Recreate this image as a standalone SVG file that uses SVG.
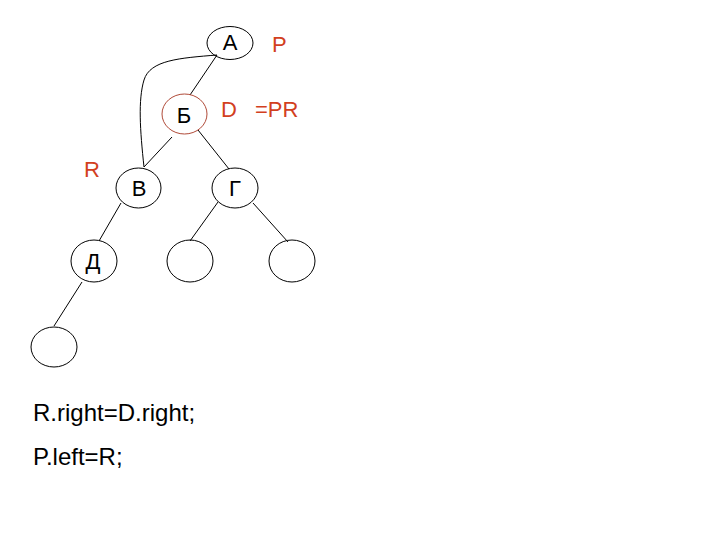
<svg xmlns="http://www.w3.org/2000/svg" width="720" height="540" viewBox="0 0 720 540">
<style>
.n{fill:none;stroke:#000;stroke-width:1}
.t{font-family:"Liberation Sans",Arial,sans-serif;font-size:22px;fill:#000;text-anchor:middle}
.r{font-family:"Liberation Sans",Arial,sans-serif;font-size:22px;fill:#d2401e}
.c{fill:none;stroke:#000;stroke-width:1}
.code{font-family:"Liberation Sans",Arial,sans-serif;font-size:24px;fill:#000}
</style>
<rect width="720" height="540" fill="#fff"/>
<g id="connectors">
<path class="c" d="M217,55 C180,58 150,60 144,80 C138,100 140,130 144,167"/>
<line class="c" x1="217" y1="55" x2="190" y2="95"/>
<line class="c" x1="172" y1="137" x2="144" y2="167"/>
<line class="c" x1="198" y1="130" x2="229" y2="169"/>
<line class="c" x1="121" y1="203" x2="99" y2="241"/>
<line class="c" x1="218" y1="202" x2="190" y2="241"/>
<line class="c" x1="253" y1="203" x2="288" y2="242"/>
<line class="c" x1="82" y1="282" x2="54" y2="326"/>
</g>
<g id="node-A"><ellipse class="n" cx="230" cy="43" rx="23" ry="16.5"/><text class="t" x="230" y="50">А</text></g>
<g id="node-B"><ellipse cx="184.5" cy="114" rx="22.5" ry="20" fill="none" stroke="#b04a38"/><text class="t" x="184" y="123">Б</text></g>
<g id="node-V"><ellipse class="n" cx="138.5" cy="188" rx="22.5" ry="20"/><text class="t" x="139" y="196">В</text></g>
<g id="node-G"><ellipse class="n" cx="235" cy="188" rx="23" ry="20"/><text class="t" x="235" y="196">Г</text></g>
<g id="node-D"><ellipse class="n" cx="94" cy="261" rx="23" ry="21"/><text class="t" x="93" y="269">Д</text></g>
<g id="node-e1"><ellipse class="n" cx="190" cy="261" rx="23" ry="21"/></g>
<g id="node-e2"><ellipse class="n" cx="292" cy="261" rx="23" ry="21"/></g>
<g id="node-e3"><ellipse class="n" cx="54" cy="347" rx="23" ry="20"/></g>
<g id="labels">
<text class="r" x="272" y="52">P</text>
<text class="r" x="221" y="117">D</text>
<text class="r" x="255" y="117">=PR</text>
<text class="r" x="84" y="177">R</text>
<text class="code" x="33" y="421">R.right=D.right;</text>
<text class="code" x="33" y="465">P.left=R;</text>
</g>
</svg>
